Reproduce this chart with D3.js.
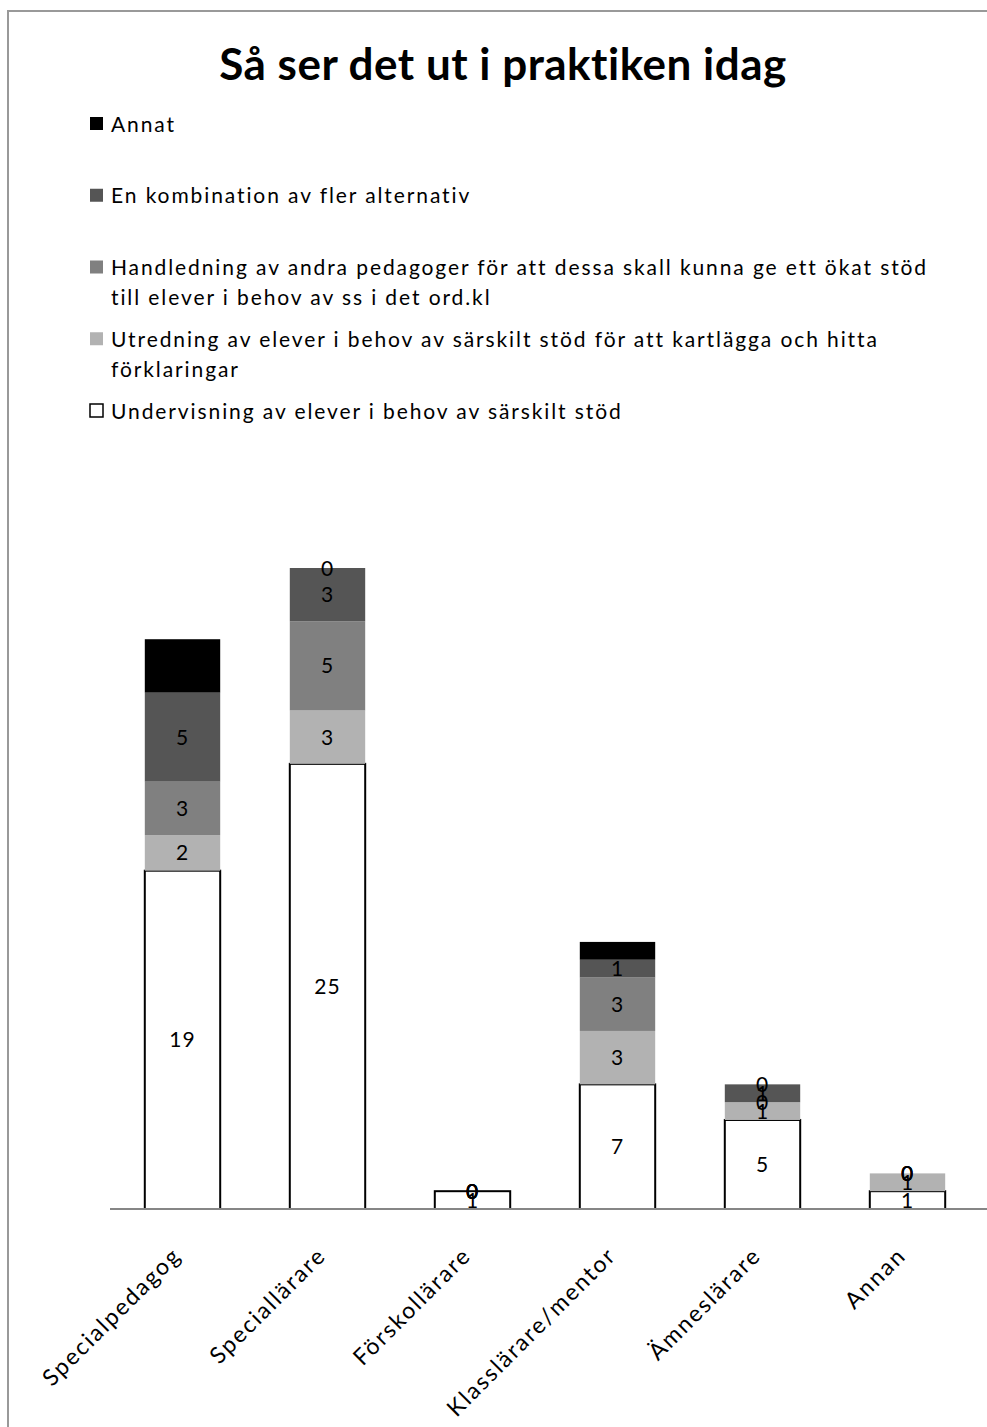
<!DOCTYPE html>
<html>
<head>
<meta charset="utf-8">
<script src="https://cdn.jsdelivr.net/npm/d3@7"></script>
<style>
  html, body { margin: 0; padding: 0; background: #fff; }
  svg { display: block; font-family: Lato, "Open Sans", sans-serif; }
</style>
</head>
<body>
<svg id="chart" width="987" height="1427"></svg>
<script>
// Yrkesroller (kategorier på x-axeln)
const categories = ["Specialpedagog", "Speciallärare", "Förskollärare", "Klasslärare/mentor", "Ämneslärare", "Annan"];

// Serier, nerifrån och upp i staplarna
const undervisning = [19, 25, 1, 7, 5, 1];
const utredning    = [2, 3, 0, 3, 1, 1];
const handledning  = [3, 5, 0, 3, 0, 0];
const kombination  = [5, 3, 0, 1, 1, 0];
const annat        = [3, 0, 0, 1, 0, 0];

const seriesNames = [
  "Undervisning av elever i behov av särskilt stöd",
  "Utredning av elever i behov av särskilt stöd för att kartlägga och hitta förklaringar",
  "Handledning av andra pedagoger för att dessa skall kunna ge ett ökat stöd till elever i behov av ss i det ord.kl",
  "En kombination av fler alternativ",
  "Annat"
];
const seriesValues = [undervisning, utredning, handledning, kombination, annat];
const seriesColors = ["#ffffff", "#b2b2b2", "#808080", "#555555", "#000000"];

const title = "Så ser det ut i praktiken idag";

const svg = d3.select("#chart");

// Ram runt diagramytan
svg.append("rect")
  .attr("x", 8).attr("y", 11)
  .attr("width", 1000).attr("height", 1440)
  .attr("fill", "none")
  .attr("stroke", "#999")
  .attr("stroke-width", 2);

// Rubrik
svg.append("text")
  .attr("x", 503).attr("y", 80)
  .attr("text-anchor", "middle")
  .attr("font-size", 44)
  .attr("font-weight", "bold")
  .attr("letter-spacing", 0.5)
  .attr("fill", "#000")
  .text(title);

// Tabell för stackning
const keys = seriesNames;
const table = categories.map((c, i) => {
  const row = { category: c };
  keys.forEach((k, s) => { row[k] = seriesValues[s][i]; });
  return row;
});
const stacked = d3.stack().keys(keys)(table);

const x = d3.scaleBand()
  .domain(categories)
  .range([110, 980])
  .paddingInner(0.48)
  .paddingOuter(0.24);

const y = d3.scaleLinear()
  .domain([0, 36])
  .range([1209, 568]);

const color = d3.scaleOrdinal().domain(keys).range(seriesColors);

// Staplar
const layers = svg.append("g").selectAll("g")
  .data(stacked)
  .join("g")
  .attr("fill", d => color(d.key));

layers.selectAll("rect")
  .data(d => d.map(v => ({ key: d.key, v })))
  .join("rect")
  .attr("x", d => x(d.v.data.category))
  .attr("width", x.bandwidth())
  .attr("y", d => y(d.v[1]))
  .attr("height", d => y(d.v[0]) - y(d.v[1]))
  .attr("stroke", d => d.key === keys[0] ? "#000" : "none")
  .attr("stroke-width", 2);

// X-axel
const xAxis = svg.append("g")
  .attr("transform", `translate(0,${y(0)})`)
  .call(d3.axisBottom(x).tickSize(0).tickFormat(""));
xAxis.select(".domain").remove();
xAxis.append("line")
  .attr("x1", 110).attr("x2", 987)
  .attr("stroke", "#868686").attr("stroke-width", 2);

// Kategorietiketter, roterade
svg.append("g").selectAll("text")
  .data(categories)
  .join("text")
  .attr("transform", d => `translate(${x(d) + x.bandwidth() / 2},${y(0) + 48}) rotate(-45)`)
  .attr("text-anchor", "end")
  .attr("font-size", 23)
  .attr("letter-spacing", 2)
  .attr("fill", "#000")
  .text(d => d);

// Dataetiketter
const labels = svg.append("g");
stacked.forEach(layer => {
  labels.selectAll(null)
    .data(layer)
    .join("text")
    .attr("x", d => x(d.data.category) + x.bandwidth() / 2)
    .attr("y", d => (y(d[0]) + y(d[1])) / 2)
    .attr("dy", "0.36em")
    .attr("text-anchor", "middle")
    .attr("font-size", 21)
    .attr("letter-spacing", 1)
    .attr("fill", "#000")
    .text(d => d[1] - d[0]);
});

// Förklaring
const legend = svg.append("g");
const legendOrder = keys.slice().reverse();
const maxWidth = 830;
legendOrder.forEach((k, i) => {
  const yy = 124 + i * 71.75;
  legend.append("rect")
    .attr("x", 90).attr("y", yy - 7)
    .attr("width", 13).attr("height", 13)
    .attr("fill", color(k))
    .attr("stroke", k === keys[0] ? "#000" : "none")
    .attr("stroke-width", 1.5);
  const t = legend.append("text")
    .attr("x", 111).attr("y", yy)
    .attr("font-size", 21)
    .attr("letter-spacing", 1.9)
    .attr("fill", "#000");
  // Radbrytning vid max bredd
  const words = k.split(" ");
  let line = [];
  let lineNo = 0;
  let tspan = t.append("tspan").attr("x", 111).attr("y", yy).attr("dy", "0.36em");
  words.forEach(w => {
    line.push(w);
    tspan.text(line.join(" "));
    if (tspan.node().getComputedTextLength() > maxWidth && line.length > 1) {
      line.pop();
      tspan.text(line.join(" "));
      line = [w];
      lineNo++;
      tspan = t.append("tspan").attr("x", 111).attr("y", yy + lineNo * 30).attr("dy", "0.36em").text(w);
    }
  });
});
</script>
</body>
</html>
